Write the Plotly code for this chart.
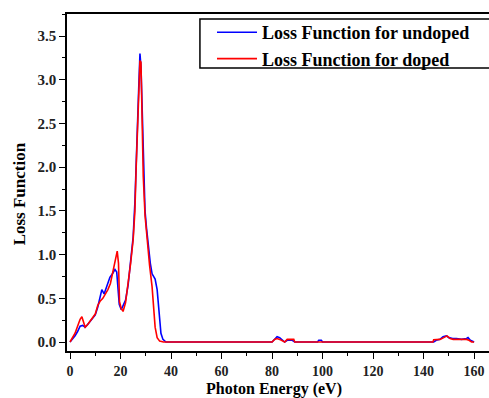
import plotly.graph_objects as go

# Undoped (blue)
x_undoped = [0, 1, 2, 3, 4, 5, 6, 7, 8, 9, 10, 11, 12, 12.6, 13.5, 14.5, 15.8, 17, 17.8, 18.5,
             19, 19.5, 20.3, 21, 22, 23, 24, 25, 25.7, 26.5, 27.2, 27.7, 28.1, 28.5, 29, 29.7,
             30.3, 31, 31.8, 32.5, 33.7, 34.5, 35, 35.5, 36, 36.8, 38,
             80, 81, 82, 83, 84, 85, 86, 88, 89, 98, 98.5, 99.5, 100,
             144, 145, 146.5, 147.7, 149, 150, 151.5, 153, 155, 157, 157.6, 158.5, 159.6, 160]
y_undoped = [0, 0.03, 0.07, 0.12, 0.18, 0.19, 0.17, 0.2, 0.24, 0.27, 0.31, 0.4, 0.52, 0.6, 0.55, 0.63, 0.74, 0.79, 0.83, 0.8,
             0.6, 0.43, 0.37, 0.41, 0.48, 0.65, 0.9, 1.2, 1.6, 2.4, 2.9, 3.3, 3.15, 2.75, 2.1, 1.5,
             1.3, 1.1, 0.9, 0.78, 0.72, 0.6, 0.45, 0.28, 0.1, 0.03, 0,
             0, 0.03, 0.06, 0.05, 0.02, 0, 0.02, 0.02, 0, 0, 0.02, 0.02, 0,
             0, 0.02, 0.03, 0.06, 0.07, 0.05, 0.04, 0.04, 0.03, 0.04, 0.05, 0.02, 0, 0]

# Doped (red)
x_doped = [0, 1, 2, 3, 4, 4.7, 5.3, 6, 7, 8, 9, 10, 11, 12, 13, 14, 15, 16, 17, 18, 18.7, 19.2,
           19.6, 20.3, 21, 22, 23, 24, 25, 25.7, 26.2, 26.7, 27.2, 27.7, 28.1, 28.5, 29, 29.7,
           30.5, 31.5, 32.5, 33, 33.7, 34.5, 35.5, 37,
           80, 81, 82, 83, 84, 85, 86, 88.6, 89,
           143.7, 144, 146.5, 148, 149.3, 150.5, 151.7, 157, 158, 159, 160]
y_doped = [0, 0.05, 0.1, 0.18, 0.26, 0.29, 0.22, 0.17, 0.2, 0.24, 0.28, 0.32, 0.42, 0.47, 0.5, 0.55, 0.6, 0.67, 0.82, 0.93, 1.04, 0.9,
           0.46, 0.38, 0.35, 0.45, 0.65, 0.9, 1.17, 1.5, 2.0, 2.4, 3.0, 3.22, 3.2, 2.7, 1.9, 1.45,
           1.17, 0.88, 0.63, 0.4, 0.17, 0.05, 0.01, 0,
           0, 0.03, 0.04, 0.03, 0.01, 0, 0.03, 0.03, 0,
           0, 0.025, 0.03, 0.05, 0.07, 0.04, 0.03, 0.03, 0.02, 0, 0]

x_ticks = [0, 20, 40, 60, 80, 100, 120, 140, 160]
y_ticks = [0.0, 0.5, 1.0, 1.5, 2.0, 2.5, 3.0, 3.5]

FONT = "Liberation Serif"

fig = go.Figure()
fig.add_trace(go.Scatter(x=x_undoped, y=y_undoped, mode="lines",
                         line=dict(color="#0000FF", width=1.6),
                         name="<b>Loss Function for undoped</b>"))
fig.add_trace(go.Scatter(x=x_doped, y=y_doped, mode="lines",
                         line=dict(color="#FF0000", width=1.6),
                         name="<b>Loss Function for doped</b>"))

fig.update_layout(
    width=489, height=398,
    margin=dict(l=67, r=0, t=14, b=47),
    paper_bgcolor="white", plot_bgcolor="white",
    font=dict(family=FONT, color="black", size=13),
    showlegend=True,
    legend=dict(x=0.3436, y=1.0, xanchor="left", yanchor="top",
                borderwidth=0, bgcolor="rgba(0,0,0,0)",
                font=dict(family=FONT, size=18, color="black"),
                tracegroupgap=0, itemwidth=40),
)

# legend frame (extends past the right edge as in the reference)
fig.add_shape(type="rect", xref="paper", yref="paper",
              x0=0.315, x1=1.1, y0=0.840, y1=0.985,
              line=dict(color="black", width=1.5), fillcolor="white", layer="above")

fig.update_xaxes(
    range=[-1.19, 165.9], tickvals=x_ticks, ticktext=[f"<b>{v}</b>" for v in x_ticks],
    showgrid=False, zeroline=False, showline=True, linecolor="black", linewidth=1.5,
    mirror=True, ticks="outside", ticklen=6, tickwidth=1.3, tickcolor="black",
    minor=dict(dtick=10, tick0=0, ticks="outside", ticklen=3.5, tickwidth=1.2, tickcolor="black"),
    tickfont=dict(family=FONT, size=14, color="#222222"),
)
fig.update_yaxes(
    range=[-0.103, 3.753], tickvals=y_ticks, ticktext=[f"<b>{v:.1f}</b>" for v in y_ticks],
    showgrid=False, zeroline=False, showline=True, linecolor="black", linewidth=1.5,
    mirror=False, ticks="outside", ticklen=6, tickwidth=1.3, tickcolor="black",
    minor=dict(dtick=0.25, tick0=0, ticks="outside", ticklen=3.5, tickwidth=1.2, tickcolor="black"),
    tickfont=dict(family=FONT, size=15, color="#222222"),
)

fig.add_annotation(text="<b>Photon Energy (eV)</b>", xref="paper", yref="paper",
                   x=0.49, y=-0.1128, xanchor="center", yanchor="middle", showarrow=False,
                   font=dict(family=FONT, size=16, color="black"))
fig.add_annotation(text="<b>Loss Function</b>", xref="paper", yref="paper",
                   x=-0.112, y=0.467, xanchor="center", yanchor="middle", showarrow=False,
                   textangle=-90, font=dict(family=FONT, size=17, color="black"))

fig.write_html("out.html")
